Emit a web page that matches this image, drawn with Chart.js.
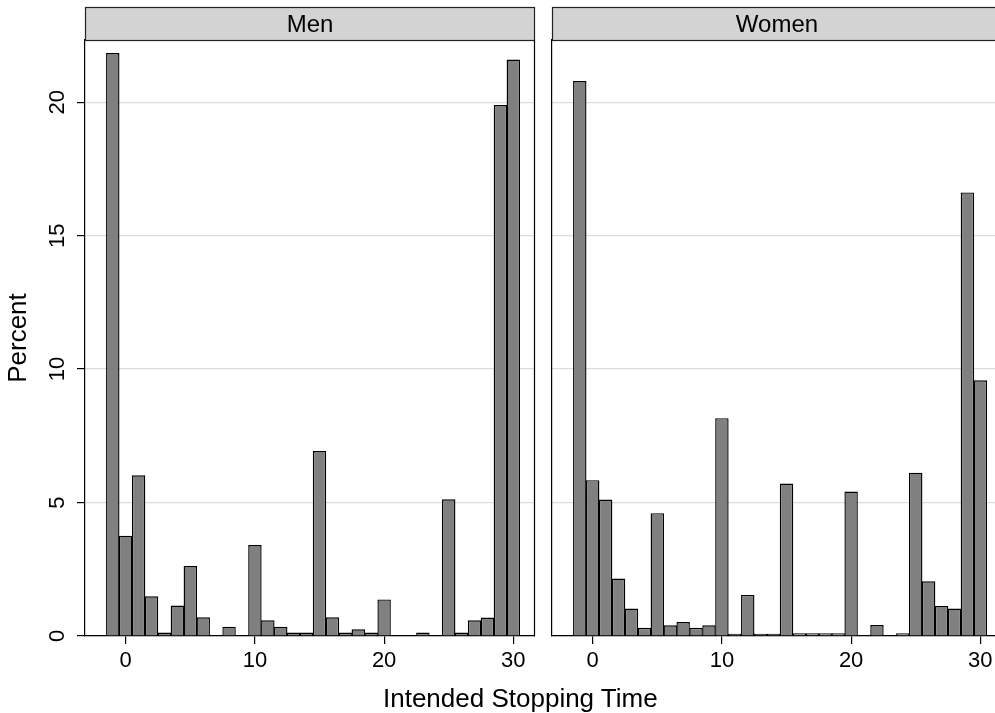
<!DOCTYPE html>
<html>
<head>
<meta charset="utf-8">
<script src="https://cdn.jsdelivr.net/npm/chart.js@4/dist/chart.umd.min.js"></script>
<style>
html,body{margin:0;padding:0;background:#fff;overflow:hidden;width:995px;height:713px}
#wrap{position:relative;width:995px;height:713px;overflow:hidden;background:#fff}
canvas{position:absolute;top:0}
#xtitle{position:absolute;left:383px;top:683px;height:30px;line-height:30px;
  font-family:'Liberation Sans',Arial,Helvetica,sans-serif;font-size:26px;color:#000;white-space:nowrap}
</style>
</head>
<body>
<div id="wrap">
  <canvas id="men" width="545" height="713" style="left:0px"></canvas>
  <canvas id="women" width="470" height="713" style="left:542px"></canvas>
  <div id="xtitle">Intended Stopping Time</div>
</div>
<script>
// ---- data ----
const bins = [-1,0,1,2,3,4,5,6,7,8,9,10,11,12,13,14,15,16,17,18,19,20,21,22,23,24,25,26,27,28,29,30];
const menPercent = [21.84,3.76,6.02,1.49,0.13,1.14,2.62,0.70,0,0.35,0,3.41,0.59,0.35,0.13,0.13,
                    6.93,0.70,0.13,0.25,0.13,1.37,0,0,0.13,0,5.12,0.13,0.59,0.69,19.89,21.60];
const womenPercent = [20.79,5.84,5.11,2.15,1.03,0.31,4.60,0.40,0.52,0.31,0.40,8.16,0.08,1.54,0.08,0.08,
                      5.71,0.10,0.10,0.10,0.10,5.41,0,0.41,0,0.10,6.12,2.05,1.12,1.03,16.62,9.58];
const xTicks = [0,10,20,30];
const yTicks = [0,5,10,15,20];
const panelTitles = ['Men','Women'];
const yAxisTitle = 'Percent';

const FONT = "'Liberation Sans', Arial, Helvetica, sans-serif";

const framePlugin = {
  id: 'panelFrame',
  afterDraw(chart, args, opts) {
    const {ctx, chartArea: a} = chart;
    const L = Math.round(a.left) + 0.5, R = Math.round(a.right) + 0.5;
    const T = Math.round(a.top) + 0.5, B = Math.round(a.bottom) + 0.5;
    const hTop = 7.5;
    ctx.save();
    ctx.fillStyle = '#d3d3d3';
    ctx.fillRect(L, hTop, R - L, T - hTop);
    ctx.strokeStyle = '#222';
    ctx.lineWidth = 1.2;
    ctx.strokeRect(L, hTop, R - L, T - hTop);
    ctx.beginPath();
    ctx.moveTo(R, T); ctx.lineTo(R, B);
    ctx.strokeStyle = '#000';
    ctx.stroke();
    ctx.fillStyle = '#000';
    ctx.font = '24px ' + FONT;
    ctx.textAlign = 'center';
    ctx.textBaseline = 'middle';
    ctx.fillText(opts.title, (L + R) / 2, (hTop + T) / 2 + 1);
    ctx.restore();
  }
};

function makeChart(id, values, title, showY) {
  const pts = [];
  bins.forEach((b, i) => { if (values[i] > 0) pts.push({x: b, y: values[i]}); });
  return new Chart(document.getElementById(id), {
    type: 'bar',
    data: {
      datasets: [{
        data: pts,
        backgroundColor: '#808080',
        borderColor: '#000',
        borderWidth: 1.4,
        borderSkipped: 'start',
        barPercentage: 1.04,
        categoryPercentage: 1.0
      }]
    },
    plugins: [framePlugin],
    options: {
      responsive: false,
      animation: false,
      layout: {padding: {top: 40, right: 11, left: 0, bottom: 0}},
      plugins: {
        legend: {display: false},
        tooltip: {enabled: false},
        panelFrame: {title: title}
      },
      scales: {
        x: {
          type: 'linear',
          offset: false,
          min: -3.15, max: 31.6,
          afterBuildTicks: s => { s.ticks = xTicks.map(v => ({value: v})); },
          afterFit: s => { s.height = 77; },
          grid: {offset: false, drawOnChartArea: false, tickColor: '#000', tickLength: 8, lineWidth: 1.2},
          border: {color: '#000', width: 1.2},
          ticks: {font: {family: FONT, size: 22}, color: '#000', padding: 4, maxRotation: 0, autoSkip: false}
        },
        y: {
          type: 'linear',
          min: 0, max: 22.33,
          afterBuildTicks: s => { s.ticks = yTicks.map(v => ({value: v})); },
          afterFit: s => { s.width = showY ? 85 : 10; },
          grid: {color: '#dcdcdc', lineWidth: 1.2, tickColor: '#000', tickLength: showY ? 8 : 0, drawTicks: showY},
          border: {color: '#000', width: 1.2},
          ticks: {display: showY, font: {family: FONT, size: 22}, color: '#000',
                  minRotation: 90, maxRotation: 90, crossAlign: 'center', padding: 7},
          title: {display: showY, text: yAxisTitle, color: '#000',
                  font: {family: FONT, size: 26}, padding: {top: 3, bottom: 0}}
        }
      }
    }
  });
}

makeChart('men', menPercent, panelTitles[0], true);
makeChart('women', womenPercent, panelTitles[1], false);
</script>
</body>
</html>
